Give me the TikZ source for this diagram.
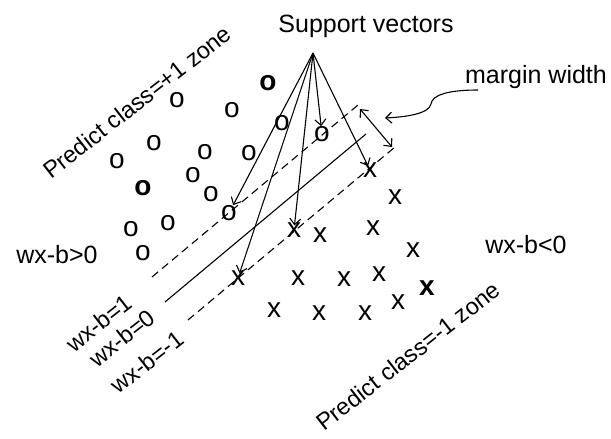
\documentclass[tikz,border=0pt]{standalone}
\usepackage{fontspec}
\setmainfont{Liberation Sans}
\usetikzlibrary{arrows.meta}
\begin{document}
\begin{tikzpicture}[x=1pt,y=-1pt,
  every node/.style={inner sep=0pt, font=\fontsize{25}{30}\selectfont},
  pnt/.style={font=\fontsize{28}{30}\selectfont},
  rlbl/.style={rotate=38, font=\fontsize{23.5}{28}\selectfont},
  ln/.style={line width=1.1pt},
  dln/.style={line width=1.1pt, dash pattern=on 8pt off 5pt},
  arr/.style={line width=1.1pt, -{Straight Barb[length=6pt,width=11pt]}},
  darr/.style={line width=1.1pt, {Straight Barb[length=6pt,width=11pt]}-{Straight Barb[length=6pt,width=11pt]}}
]
\useasboundingbox (0,0) rectangle (611,439);

% margin lines
\coordinate (u1) at (152,277); \coordinate (u2) at (358,105);
\coordinate (s1) at (165,302); \coordinate (s2) at (366,134);
\coordinate (l1) at (188,320); \coordinate (l2) at (395,147);
\draw[dln] (u1) -- (u2);
\draw[ln] (s1) -- (s2);
\draw[dln] (l1) -- (l2);

% class +1 points
\node[pnt] (o1) at (268,83) {\bfseries o};
\node[pnt] (o2) at (177,100) {o};
\node[pnt] (o3) at (232,110) {o};
\node[pnt] (o4) at (282,123) {o};
\node[pnt] (o5) at (154,143) {o};
\node[pnt] (o6) at (117,161) {o};
\node[pnt] (o7) at (205,152) {o};
\node[pnt] (o8) at (249,153) {o};
\node[pnt] (o9) at (143,188) {\bfseries o};
\node[pnt] (o10) at (193,175) {o};
\node[pnt] (o11) at (211,194) {o};
\node[pnt] (o12) at (229,213) {o};
\node[pnt] (o13) at (131,229) {o};
\node[pnt] (o14) at (168,223) {o};
\node[pnt] (o15) at (143,253) {o};
\node[pnt] (o16) at (322,134) {o};

% class -1 points
\node[pnt] (x1) at (370,170) {x};
\node[pnt] (x2) at (395,197) {x};
\node[pnt] (x3) at (294,230) {x};
\node[pnt] (x4) at (320,235) {x};
\node[pnt] (x5) at (373,228) {x};
\node[pnt] (x6) at (413,250) {x};
\node[pnt] (x7) at (238,278) {x};
\node[pnt] (x8) at (298,278) {x};
\node[pnt] (x9) at (344,279) {x};
\node[pnt] (x10) at (379,274) {x};
\node[pnt] (x11) at (427,288) {\bfseries x};
\node[pnt] (x12) at (274,310) {x};
\node[pnt] (x13) at (319,313) {x};
\node[pnt] (x14) at (365,313) {x};
\node[pnt] (x15) at (398,302) {x};

% support vectors label and arrows
\node[anchor=base] (sv) at (366,32) {Support vectors};
\coordinate (apex) at (313,53);
\draw[arr] (apex) -- (o12);
\draw[arr, shorten >=-3pt] (apex) -- (x7);
\draw[arr, shorten >=-3pt] (apex) -- (x3);
\draw[arr] (apex) -- (o16);
\draw[arr, shorten >=-4pt] (apex) -- (x1);

% margin width
\node[anchor=base] (mw) at (536,83) {margin width};
\coordinate (m1) at (360,109); \coordinate (m2) at (392,147);
\draw[darr] (m1) -- (m2);
\coordinate (c0) at (478,90);
\coordinate (c1) at (385,118);
\draw[arr] (c0) .. controls (448,90) and (432,95) .. (431,104)
                .. controls (429,114) and (405,117) .. (c1);

% labels
\node[rlbl] (pp) at (137,102) {Predict class=+1 zone};
\node[rlbl] (pm) at (408,356) {Predict class=-1 zone};
\node[anchor=base] (gt) at (57,263) {wx-b>0};
\node[anchor=base] (lt) at (526,253) {wx-b<0};
\node[rlbl] (e1) at (99,323) {wx-b=1};
\node[rlbl] (e0) at (122,338) {wx-b=0};
\node[rlbl] (em) at (147,362) {wx-b=-1};
\end{tikzpicture}
\end{document}
